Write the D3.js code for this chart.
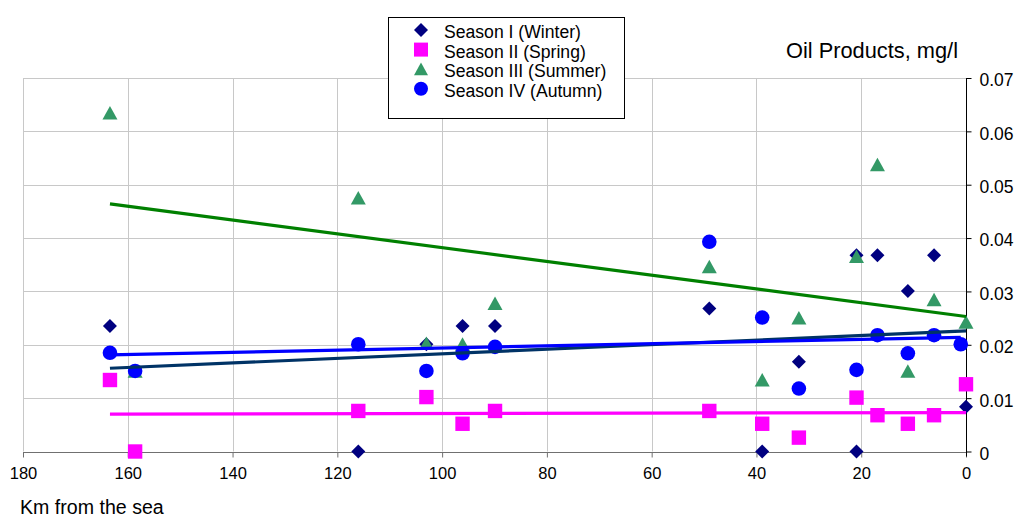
<!DOCTYPE html>
<html>
<head>
<meta charset="utf-8">
<script src="https://cdn.jsdelivr.net/npm/d3@7"></script>
<style>
  html, body { margin: 0; padding: 0; background: #fff; }
  svg { display: block; }
  text { font-family: "Liberation Sans", Arial, sans-serif; fill: #000; }
</style>
</head>
<body>
<div id="chart"></div>
<script>
// Distance upstream from the sea (km) and oil-product concentration (mg/l) per season
const winterKm  = [163.4, 116.0, 103.0, 96.1, 89.9, 49.0, 38.9, 31.9, 20.9, 20.9, 16.9, 11.1, 6.1, 0];
const winterVal = [0.0235, 0, 0.0201, 0.0235, 0.0235, 0.0268, 0, 0.0168, 0.0368, 0, 0.0368, 0.0301, 0.0368, 0.0084];

const springKm  = [163.4, 158.6, 116.0, 103.0, 96.1, 89.9, 49.0, 38.9, 31.9, 20.9, 16.9, 11.1, 6.1, 0];
const springVal = [0.0134, 0, 0.0076, 0.0102, 0.0052, 0.0076, 0.0076, 0.0052, 0.0026, 0.0101, 0.0068, 0.0052, 0.0068, 0.0126];

const summerKm  = [163.4, 158.6, 116.0, 103.0, 96.1, 89.9, 49.0, 38.9, 31.9, 20.9, 16.9, 11.1, 6.1, 0];
const summerVal = [0.0634, 0.0150, 0.0475, 0.0202, 0.0201, 0.0277, 0.0346, 0.0134, 0.0250, 0.0365, 0.0537, 0.0150, 0.0284, 0.0242];

const autumnKm  = [163.4, 158.6, 116.0, 103.0, 96.1, 89.9, 49.0, 38.9, 31.9, 20.9, 16.9, 11.1, 6.1, 1.0];
const autumnVal = [0.0185, 0.0151, 0.0201, 0.0151, 0.0184, 0.0196, 0.0393, 0.0251, 0.0118, 0.0153, 0.0218, 0.0184, 0.0218, 0.0201];

// Linear trend lines: [km, value] at each end
const winterTrend = [[163.4, 0.0156], [0, 0.0226]];
const springTrend = [[163.4, 0.0070], [0, 0.0073]];
const summerTrend = [[163.4, 0.0464], [0, 0.0253]];
const autumnTrend = [[163.4, 0.0181], [1.0, 0.0214]];

const seriesNames = ["Season I (Winter)", "Season II (Spring)", "Season III (Summer)", "Season IV (Autumn)"];
const xTicks = [180, 160, 140, 120, 100, 80, 60, 40, 20, 0];
const yTicks = [0, 0.01, 0.02, 0.03, 0.04, 0.05, 0.06, 0.07];

const W = 1016, H = 519;
const svg = d3.select("#chart").append("svg").attr("width", W).attr("height", H);

const x = d3.scaleLinear().domain([180, 0]).range([23, 966]);
const y = d3.scaleLinear().domain([0, 0.07]).range([451.5, 78]);

// grid
const grid = svg.append("g");
grid.selectAll(".vg").data(xTicks.filter(d => d !== 0)).join("line")
  .attr("x1", d => Math.round(x(d)) + 0.5).attr("x2", d => Math.round(x(d)) + 0.5)
  .attr("y1", y(0.07)).attr("y2", y(0))
  .attr("stroke", "#c8c8c8").attr("stroke-width", 1);
grid.selectAll(".hg").data(yTicks.filter(d => d !== 0)).join("line")
  .attr("x1", x(180)).attr("x2", x(0))
  .attr("y1", d => Math.round(y(d)) + 0.5).attr("y2", d => Math.round(y(d)) + 0.5)
  .attr("stroke", "#c8c8c8").attr("stroke-width", 1);

// x axis (bottom, reversed)
const xAxis = svg.append("g").attr("transform", `translate(0,${Math.round(y(0)) + 0.5})`)
  .call(d3.axisBottom(x).tickValues(xTicks).tickSize(5).tickPadding(10).tickFormat(d3.format("d")));
xAxis.select(".domain").attr("stroke", "#707070").attr("d", `M${x(180)},0H${x(0)}`);
xAxis.selectAll(".tick line").attr("stroke", "#707070");
xAxis.selectAll(".tick text").style("font-size", "16.5px").style("font-family", "Liberation Sans, Arial, sans-serif").attr("fill", "#000");

// y axis (right side)
const yAxis = svg.append("g").attr("transform", `translate(${Math.round(x(0)) + 0.5},0)`)
  .call(d3.axisRight(y).tickValues(yTicks).tickSize(5).tickPadding(8)
    .tickFormat(d => d === 0 ? "0" : d3.format(".2f")(d)));
yAxis.select(".domain").attr("stroke", "#000").attr("d", `M0,${y(0.07)}V${y(0) + 5}`);
yAxis.selectAll(".tick line").attr("stroke", "#000");
yAxis.selectAll(".tick text").style("font-size", "17.5px").style("font-family", "Liberation Sans, Arial, sans-serif").attr("fill", "#000").attr("dy", "0.45em");

// marker shapes
const shapes = {
  diamond: r => `M0,${-r}L${r},0L0,${r}L${-r},0Z`,
  square: r => `M${-r},${-r}H${r}V${r}H${-r}Z`,
  triangle: r => `M0,${-r * 0.95}L${r},${r * 0.85}L${-r},${r * 0.85}Z`,
  circle: r => `M${r},0A${r},${r} 0 1,1 ${-r},0A${r},${r} 0 1,1 ${r},0Z`
};

const series = [
  { km: winterKm, val: winterVal, shape: "diamond", r: 7, color: "#000080" },
  { km: springKm, val: springVal, shape: "square", r: 7.2, color: "#ff00ff" },
  { km: summerKm, val: summerVal, shape: "triangle", r: 7.5, color: "#339966" },
  { km: autumnKm, val: autumnVal, shape: "circle", r: 7.3, color: "#0000ff" }
];

series.forEach(s => {
  const pts = s.km.map((k, i) => [k, s.val[i]]);
  svg.append("g").selectAll("path").data(pts).join("path")
    .attr("transform", d => `translate(${x(d[0])},${y(d[1])})`)
    .attr("d", shapes[s.shape](s.r))
    .attr("fill", s.color);
});

// trend lines
const line = d3.line().x(d => x(d[0])).y(d => y(d[1]));
const trends = [
  { data: winterTrend, color: "#003366" },
  { data: springTrend, color: "#ff00ff" },
  { data: summerTrend, color: "#008000" },
  { data: autumnTrend, color: "#0000ff" }
];
svg.append("g").selectAll("path").data(trends).join("path")
  .attr("d", d => line(d.data))
  .attr("fill", "none").attr("stroke", d => d.color).attr("stroke-width", 3.2);

// legend
const lg = svg.append("g");
lg.append("rect").attr("x", 388.5).attr("y", 17.5).attr("width", 236).attr("height", 101)
  .attr("fill", "#fff").attr("stroke", "#000").attr("stroke-width", 1);
const legendRows = lg.selectAll("g").data(series).join("g")
  .attr("transform", (d, i) => `translate(0,${30 + i * 19.6})`);
legendRows.append("path")
  .attr("transform", "translate(421,0)")
  .attr("d", d => shapes[d.shape](7))
  .attr("fill", d => d.color);
legendRows.append("text")
  .attr("x", 444).attr("y", 8)
  .style("font-size", "17.6px")
  .text((d, i) => seriesNames[i]);

// titles
svg.append("text").attr("x", 958).attr("y", 58).attr("text-anchor", "end")
  .style("font-size", "21.8px").text("Oil Products, mg/l");
svg.append("text").attr("x", 20).attr("y", 514)
  .style("font-size", "19.6px").text("Km from the sea");
</script>
</body>
</html>
